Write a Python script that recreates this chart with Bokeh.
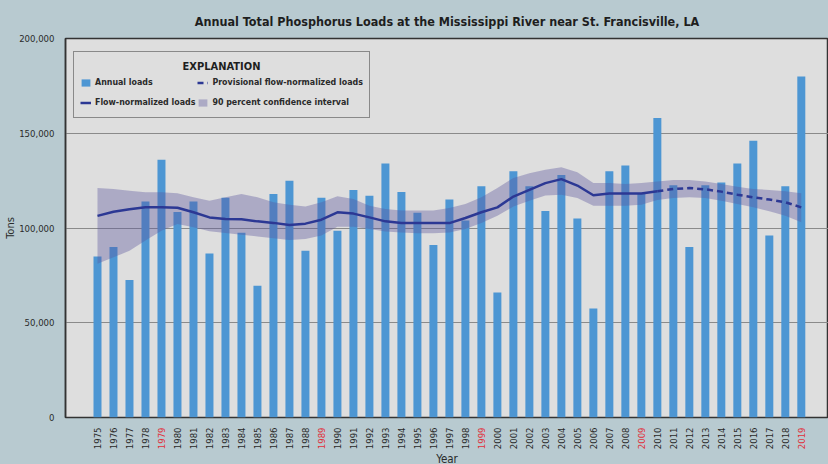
import math
from bokeh.plotting import figure
from bokeh.layouts import column
from bokeh.models import (ColumnDataSource, FixedTicker, NumeralTickFormatter,
                          Legend, LegendItem, Range1d, Title)
from bokeh.core.properties import value
from bokeh.embed import file_html
from bokeh.resources import INLINE

# ---------------- data ----------------
years = list(range(1975, 2020))
annual_loads = [85000, 90000, 72500, 114000, 136000, 108500, 114000, 86500, 116000, 97500,
                69500, 118000, 125000, 88000, 116000, 98500, 120000, 117000, 134000, 119000,
                108000, 91000, 115000, 104000, 122000, 66000, 130000, 122000, 109000, 128000,
                105000, 57500, 130000, 133000, 118500, 158000, 122500, 90000, 122500, 124000,
                134000, 146000, 96000, 122000, 180000]
flow_normalized = [106400, 108600, 109900, 110900, 110900, 110700, 108300, 105600, 104800, 104600,
                   103500, 102700, 101600, 102300, 104400, 108300, 107600, 105600, 103500, 102600,
                   102600, 102600, 102600, 105300, 108300, 110900, 116600, 120100, 123700, 125800,
                   122400, 117300, 118200, 118200, 118200, 119400, 120600, 121100, 120400, 119200,
                   117600, 116200, 115000, 113600, 110900]
ci_upper = [121100, 120600, 119700, 118800, 118800, 118300, 116200, 114400, 116200, 117900,
            116200, 113600, 112300, 111300, 113600, 116700, 115300, 111800, 110000, 109200,
            109200, 109200, 110600, 112700, 116200, 121100, 126400, 128900, 130700, 132100,
            129400, 123700, 123700, 123200, 123700, 124600, 125300, 125300, 124600, 123200,
            121800, 120600, 120100, 119400, 118300]
ci_lower = [81100, 84500, 88000, 93400, 98600, 102100, 100400, 98300, 97400, 96500,
            95500, 94600, 93700, 94200, 96000, 100700, 100700, 99500, 98100, 97600,
            97200, 97200, 97600, 99500, 102600, 106500, 111300, 114400, 117100, 117600,
            115800, 111800, 111800, 111800, 112300, 114800, 115800, 116200, 115800, 114400,
            112700, 110900, 108800, 106500, 103000]
provisional_from = 2010
highlight_years = [1979, 1989, 1999, 2009, 2019]
y_ticks = [0, 50000, 100000, 150000, 200000]

title_text = "Annual Total Phosphorus Loads at the Mississippi River near St. Francisville, LA"

# ---------------- style ----------------
FONT = "DejaVu Sans Condensed"
BG = "#b8cad0"
PLOT_BG = "#dedede"
BAR = "#4d96d3"
BAND = "#5c579f"
LINE = "#2c3894"
TXT = "#2a2a2a"
RED = "#e0303a"

X0, X1 = 1973, 2020.7
Y0, Y1 = 0, 200000
LEFT = 65

p = figure(width=828, height=424, output_backend="svg", toolbar_location=None,
           x_range=Range1d(X0, X1), y_range=Range1d(Y0, Y1),
           min_border_left=LEFT, min_border_right=0, min_border_top=38, min_border_bottom=7,
           background_fill_color=PLOT_BG, border_fill_color=BG,
           title=title_text)
p.title.align = "center"
p.title.text_font = FONT
p.title.text_font_size = "12.5px"
p.title.text_font_style = "bold"
p.title.text_color = "#1e1e1e"
p.title.standoff = 20

p.outline_line_color = "#333333"
p.outline_line_width = 1.5

src = ColumnDataSource(dict(year=years, loads=annual_loads, fn=flow_normalized,
                            lo=ci_lower, hi=ci_upper))
solid_src = ColumnDataSource(dict(year=[y for y in years if y <= provisional_from],
                                  fn=[v for y, v in zip(years, flow_normalized) if y <= provisional_from]))
dash_src = ColumnDataSource(dict(year=[y for y in years if y >= provisional_from],
                                 fn=[v for y, v in zip(years, flow_normalized) if y >= provisional_from]))

bars = p.vbar(x="year", top="loads", width=0.5, source=src, fill_color=BAR, line_color=None)
band = p.varea(x="year", y1="lo", y2="hi", source=src, fill_color=BAND, fill_alpha=0.38)
solid = p.line(x="year", y="fn", source=solid_src, line_color=LINE, line_width=2.5)
dash = p.line(x="year", y="fn", source=dash_src, line_color=LINE, line_width=2.5, line_dash="6 4")

# legend heading drawn as text under a transparent legend box
p.text(x=[X0 + (X1 - X0) * 156 / 763], y=[Y1 * 351 / 379], text=["EXPLANATION"],
       text_align="center", text_baseline="middle", text_font=value(FONT),
       text_font_size=value("11px"), text_font_style="bold", text_color="#1e1e1e")

# axes
p.xgrid.visible = False
p.ygrid.grid_line_color = "#8a8a8a"
p.ygrid.grid_line_width = 1
p.xaxis.visible = False

p.yaxis.ticker = FixedTicker(ticks=y_ticks)
p.yaxis.formatter = NumeralTickFormatter(format="0,0")
p.yaxis.major_tick_line_color = None
p.yaxis.minor_tick_line_color = None
p.yaxis.major_label_standoff = 5
p.yaxis.major_label_text_font = FONT
p.yaxis.major_label_text_font_size = "9.5px"
p.yaxis.major_label_text_color = TXT
p.yaxis.axis_line_color = "#333333"
p.yaxis.axis_line_width = 1.5
p.add_layout(Title(text="Tons", align="center", text_font=FONT, text_font_size="11px",
                   text_font_style="normal", text_color=TXT, standoff=0), "left")

legend = Legend(items=[LegendItem(label="Annual loads", renderers=[bars]),
                       LegendItem(label="Provisional flow-normalized loads", renderers=[dash]),
                       LegendItem(label="Flow-normalized loads", renderers=[solid]),
                       LegendItem(label="90 percent confidence interval", renderers=[band])],
                location=(8, 299), orientation="horizontal", ncols=2,
                title=" ", title_text_font_size="11px", title_standoff=3,
                label_text_font=FONT, label_text_font_size="8.8px",
                label_text_font_style="bold", label_text_color=TXT,
                glyph_width=11, glyph_height=9, label_standoff=4, label_height=18,
                spacing=2, padding=6, margin=0,
                background_fill_alpha=0,
                border_line_color="#333333", border_line_width=1.2)
p.add_layout(legend)

# ---------------- x-axis strip: year labels (red every decade's ninth year) ----------------
STRIP_H = 40
q = figure(width=828, height=STRIP_H, output_backend="svg", toolbar_location=None,
           x_range=p.x_range, y_range=Range1d(0, STRIP_H),
           min_border_left=LEFT, min_border_right=0, min_border_top=0, min_border_bottom=0,
           background_fill_color=BG, border_fill_color=BG, outline_line_color=None)
q.axis.visible = False
q.grid.visible = False
year_src = ColumnDataSource(dict(year=years, label=[str(y) for y in years],
                                 color=[RED if y in highlight_years else TXT for y in years]))
q.text(x="year", y=STRIP_H - 3, text="label", source=year_src, angle=math.pi / 2,
       text_align="right", text_baseline="middle", text_color="color",
       text_font=value(FONT), text_font_size=value("9.5px"))
q.text(x=[(X0 + X1) / 2], y=[6], text=["Year"], text_align="center", text_baseline="middle",
       text_font=value(FONT), text_font_size=value("11.5px"), text_color=TXT)

layout = column(p, q, spacing=0)

html = file_html(layout, INLINE)
html = html.replace("</head>", "<style>body{background-color:%s;}</style></head>" % BG, 1)
open("out.html", "w").write(html)
